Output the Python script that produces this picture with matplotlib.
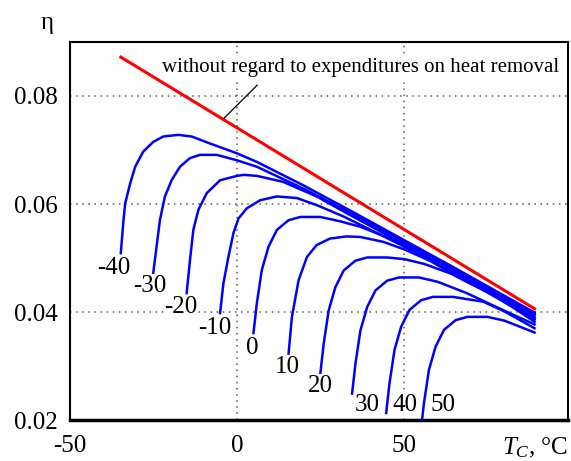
import matplotlib
matplotlib.use('Agg')
import matplotlib.pyplot as plt

plt.rcParams['font.family'] = ['Liberation Serif', 'DejaVu Serif']
plt.rcParams['mathtext.fontset'] = 'custom'
plt.rcParams['mathtext.rm'] = 'Liberation Serif'
plt.rcParams['mathtext.it'] = 'Liberation Serif:italic'
plt.rcParams['axes.unicode_minus'] = False

# limit line (without heat removal costs)
tc_red = [-34.8, 89.0]
eta_red = [0.0872, 0.0406]

# curves, one per ambient temperature
ambient = [-40, -30, -20, -10, 0, 10, 20, 30, 40, 50]

tc_m40 = [-34.8, -34.0, -33.5, -32.0, -30.5, -28.1, -25.1, -22.1, -17.6, -13.6, -8.1, -0.1, 5.9, 20, 35, 50, 65, 80, 89]
eta_m40 = [.0509, .0570, .0601, .0638, .0669, .0697, .0715, .0725, .0728, .0725, .0712, .0694, .0678, .0634, .0584, .0533, .0482, .0430, .0399]

tc_m30 = [-25.1, -24.1, -23.1, -21.6, -19.6, -17.1, -14.1, -11.1, -6.1, -0.1, 5.9, 20, 35, 50, 65, 80, 89]
eta_m30 = [.0472, .0521, .0570, .0614, .0644, .0669, .0685, .0691, .0691, .0681, .0669, .0628, .0580, .0530, .0480, .0428, .0397]

tc_m20 = [-15.1, -14.1, -13.1, -11.6, -9.1, -5.1, -0.1, 2, 6, 13.8, 23.8, 32.8, 45, 60, 75, 89]
eta_m20 = [.0435, .0496, .0552, .0589, .0620, .0644, .0652, .0654, .0652, .0641, .0614, .0583, .0542, .0493, .0443, .0395]

tc_m10 = [-5.1, -4.1, -2.6, -1.1, 0.4, 2.9, 6.9, 11.9, 17.9, 23.8, 31.8, 40, 50, 65, 80, 89]
eta_m10 = [.0398, .0453, .0502, .0546, .0573, .0592, .0607, .0614, .0611, .0598, .0577, .0552, .0521, .0472, .0422, .0392]

tc_0 = [4.9, 5.9, 7.4, 9.4, 11.9, 15.4, 18.9, 24.9, 30.8, 36.8, 45, 55, 65, 75, 89]
eta_0 = [.0361, .0416, .0478, .0521, .0552, .0570, .0576, .0576, .0568, .0558, .0538, .0509, .0477, .0444, .0389]

tc_10 = [15.4, 16.4, 18.4, 20.9, 23.8, 27.8, 32.8, 36.8, 43.7, 50, 58, 66.8, 75, 89]
eta_10 = [.0323, .0391, .0459, .0502, .0524, .0536, .0540, .0539, .0530, .0516, .0494, .0462, .0436, .0386]

tc_20 = [24.9, 25.9, 27.4, 29.4, 31.9, 35.4, 38.9, 44.9, 50, 56, 64, 72, 80, 89]
eta_20 = [.0286, .0341, .0403, .0446, .0477, .0495, .0501, .0501, .0498, .0489, .0471, .0447, .0419, .0382]

tc_30 = [34.4, 35.4, 36.9, 38.9, 41.4, 44.9, 48.4, 54.4, 60, 68.7, 78, 89]
eta_30 = [.0249, .0304, .0366, .0409, .0440, .0458, .0464, .0464, .0456, .0435, .0408, .0377]

tc_40 = [44.6, 45.6, 47.1, 49.1, 51.6, 55.1, 58.6, 64.6, 73.7, 80, 89]
eta_40 = [.0213, .0268, .0330, .0373, .0404, .0422, .0428, .0428, .0419, .0401, .0370]

tc_50 = [54.9, 55.9, 57.4, 59.4, 61.9, 65.4, 68.9, 74.9, 80, 89]
eta_50 = [.0176, .0231, .0293, .0336, .0367, .0385, .0391, .0391, .0384, .0362]

curves_tc = [tc_m40, tc_m30, tc_m20, tc_m10, tc_0, tc_10, tc_20, tc_30, tc_40, tc_50]
curves_eta = [eta_m40, eta_m30, eta_m20, eta_m10, eta_0, eta_10, eta_20, eta_30, eta_40, eta_50]

# where the ambient labels sit
label_x = [-36.8, -26.0, -16.8, -6.6, 4.5, 15.0, 24.9, 38.9, 50.3, 61.7]
label_y = [0.0481, 0.0448, 0.0409, 0.0370, 0.0333, 0.0298, 0.0263, 0.0228, 0.0228, 0.0228]

fig = plt.figure(figsize=(5.71, 4.61), dpi=100)
ax = fig.add_axes([0.1226, 0.0889, 0.8721, 0.82])

for tc, eta in zip(curves_tc, curves_eta):
    ax.plot(tc, eta, color='blue', lw=1.8, solid_joinstyle='round', zorder=3)
ax.plot(tc_red, eta_red, color='red', lw=2.2, zorder=4)

for lab, lx, ly in zip(ambient, label_x, label_y):
    ax.text(lx, ly, str(lab), fontsize=18, ha='center', va='center', zorder=5,
            bbox=dict(facecolor='white', edgecolor='none', pad=0.5))

ax.text(-22.5, 0.0852, 'without regard to expenditures on heat removal', fontsize=15,
        ha='left', va='center', zorder=5,
        bbox=dict(facecolor='white', edgecolor='none', pad=1.0))
ax.plot([6.0, -3.9], [0.0820, 0.0759], color='black', lw=0.9, zorder=5)

ax.set_xlim(-50, 99)
ax.set_ylim(0.02, 0.09)
ax.set_xticks([-50, 0, 50])
ax.set_yticks([0.02, 0.04, 0.06, 0.08])
ax.set_yticklabels(['0.02', '0.04', '0.06', '0.08'])
ax.tick_params(length=0, labelsize=18)
ax.tick_params(axis='x', pad=11)
ax.tick_params(axis='y', pad=9)
ax.grid(True, color='0.35', lw=1.1, linestyle=(0, (1, 3)))
ax.set_axisbelow(True)

for s in ['top', 'right', 'left']:
    ax.spines[s].set_linewidth(1.5)
ax.spines['bottom'].set_linewidth(2.5)

ax.text(-0.046, 1.05, 'η', transform=ax.transAxes, fontsize=18, ha='center', va='center')
ax.text(1.0, -0.074, r'$T_C$, °C', transform=ax.transAxes, fontsize=18, ha='right', va='center')

fig.savefig('out.png', dpi=100)
